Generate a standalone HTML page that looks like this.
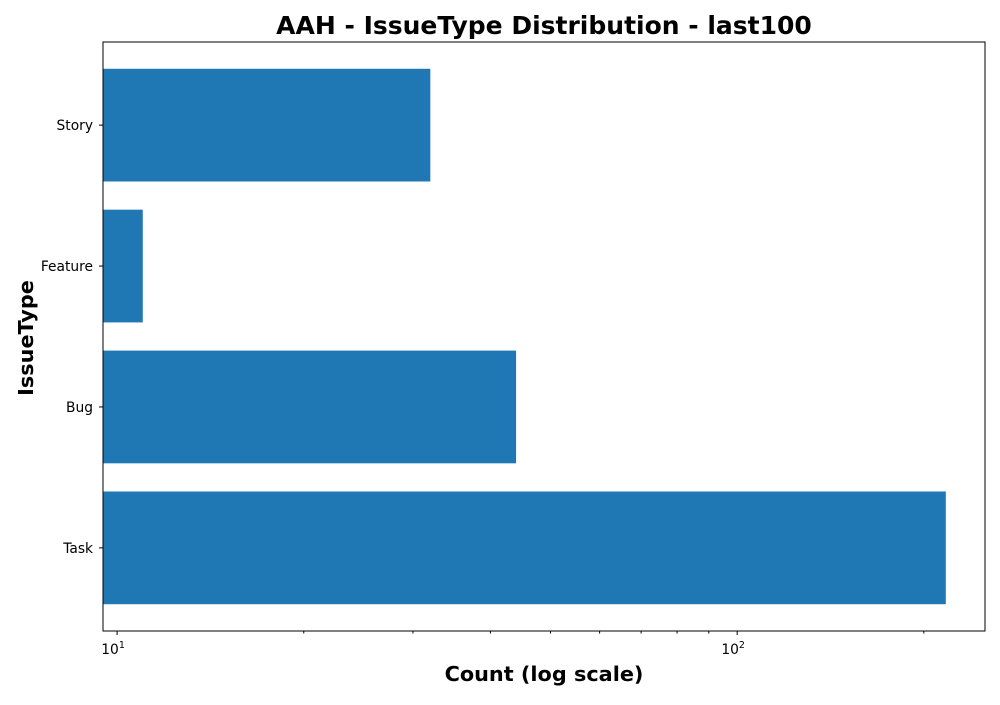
<!DOCTYPE html>
<html><head><meta charset="utf-8"><style>
body{margin:0;background:#fff;font-family:"Liberation Sans","DejaVu Sans",sans-serif}
svg text{font-family:"DejaVu Sans","Liberation Sans",sans-serif}
</style></head><body>
<svg id="chart" width="1000" height="700" xmlns="http://www.w3.org/2000/svg">
<text x="544" y="34" text-anchor="middle" font-size="25" font-weight="bold">AAH - IssueType Distribution - last100</text>
<text x="544" y="681" text-anchor="middle" font-size="20.8" font-weight="bold">Count (log scale)</text>
<text transform="translate(33,338) rotate(-90)" text-anchor="middle" font-size="20.8" font-weight="bold">IssueType</text>
<g id="plot"></g>
<rect x="103" y="42" width="882" height="589" fill="none" stroke="#000" stroke-width="1"/>
</svg>
<script>
const categories = ["Story","Feature","Bug","Task"];
const counts = [32, 11, 44, 217];
const majorTicks = [10, 100];
const majorLabels = ["1", "2"];
const minorTicks = [20,30,40,50,60,70,80,90,200];
const L=103,R=985,T=42,B=631, XMIN=9.49, XMAX=251;
const ns="http://www.w3.org/2000/svg";
const g=document.getElementById('plot');
function x(v){return L+(Math.log10(v)-Math.log10(XMIN))/(Math.log10(XMAX)-Math.log10(XMIN))*(R-L);}
const n=categories.length;
const pad=0.19, lo=-0.4-pad, hi=(n-1)+0.4+pad;
const unit=(B-T)/(hi-lo);
function yc(i){return T+(i-lo)*unit;}
function mk(t,a){const e=document.createElementNS(ns,t);for(const k in a)e.setAttribute(k,a[k]);g.appendChild(e);return e;}
categories.forEach((c,i)=>{
  const h=unit*0.8;
  const r=mk('rect',{x:L,y:yc(i)-h/2,width:Math.max(0,x(counts[i])-L),height:h,fill:'#1f77b4'});
  
  
  const tk=mk('line',{x1:L-4,x2:L,y1:yc(i),y2:yc(i),stroke:'#000'});
  
  
  const t=mk('text',{x:L-10,y:yc(i)+5,'text-anchor':'end','font-size':'13.8'});
  t.textContent=c;
  
  
});
majorTicks.forEach((v,i)=>{
  const tk=mk('line',{x1:x(v),x2:x(v),y1:B,y2:B+4,stroke:'#000'});
  
  
  const t=mk('text',{x:x(v)-4,y:B+23,'text-anchor':'middle','font-size':'13.8'});
  t.textContent='10';
  
  
  const s=document.createElementNS(ns,'tspan');
  s.setAttribute('dy','-6');s.setAttribute('font-size','9.5');s.textContent=majorLabels[i];t.appendChild(s);
});
minorTicks.forEach(v=>{
  const tk=mk('line',{x1:x(v),x2:x(v),y1:B,y2:B+2.5,stroke:'#000'});
  
  
});
</script>
</body></html>
